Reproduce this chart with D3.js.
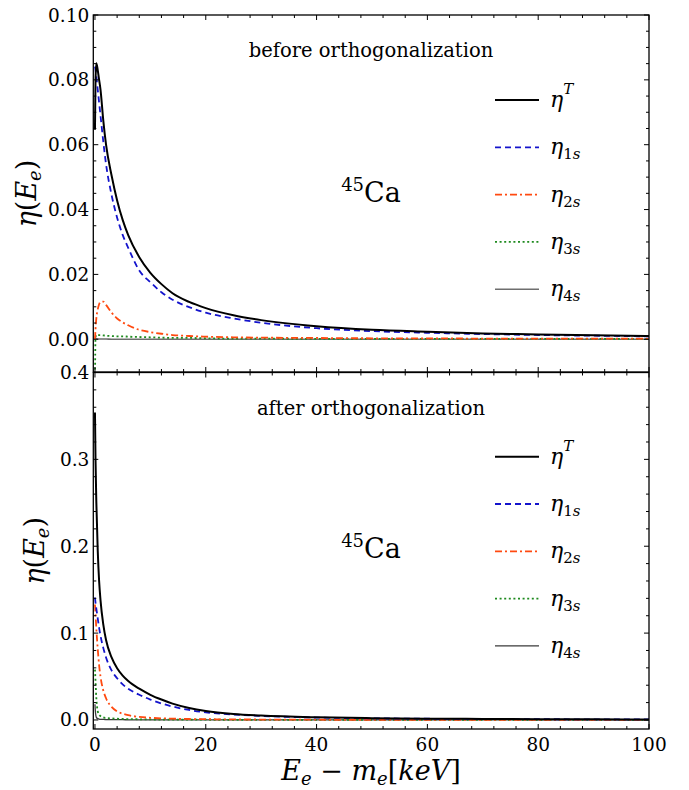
<!DOCTYPE html>
<html><head><meta charset="utf-8">
<script src="https://cdn.jsdelivr.net/npm/d3@7"></script>
<style>
body{margin:0;background:#fff}
svg{display:block}
</style>
</head><body>
<svg id="c" width="689" height="790"></svg>
<script>
// ---- data ----
const energies = [0,0.1,0.25,0.5,0.75,1,1.5,2,3,4,5,6,8,10,12,14,17,20,25,30,40,50,60,70,80,90,100];

// before orthogonalization
const beforeTotal = [0.0646,0.080,0.0851,0.083,0.080,0.077,0.0675,0.060,0.0505,0.0428,0.0368,0.0321,0.0253,0.0205,0.0170,0.0142,0.0115,0.0096,0.0074,0.0059,0.0040,0.0029,0.0023,0.0018,0.0015,0.0012,0.0010];
const before1s = [0.0841,0.083,0.081,0.077,0.073,0.069,0.061,0.054,0.0445,0.0375,0.0322,0.0282,0.0212,0.0176,0.0145,0.0122,0.0099,0.0082,0.0064,0.0051,0.0034,0.0025,0.0020,0.0016,0.0013,0.0011,0.0009];
const before2s = [0.000,0.003,0.0065,0.0092,0.0108,0.0115,0.0116,0.0106,0.0082,0.0064,0.0052,0.0043,0.0029,0.0022,0.0017,0.0013,0.0010,0.0008,0.0006,0.0005,0.0004,0.0003,0.0003,0.0002,0.0002,0.0002,0.0002];
const before3s = [-0.015,0.0005,0.0014,0.0014,0.0013,0.0013,0.0012,0.0011,0.0010,0.0009,0.0009,0.0008,0.0007,0.0006,0.0005,0.0004,0.0004,0.0003,0.0002,0.0002,0.0001,0.0001,0.0001,0.0001,0.0001,0.0001,0.0001];
const before4s = [0.0003,0.0002,0.0002,0.0001,0.0001,0.0001,0.0001,0.0001,0,0,0,0,0,0,0,0,0,0,0,0,0,0,0,0,0,0,0];

// after orthogonalization
const afterTotal = [0.354,0.300,0.250,0.195,0.160,0.138,0.110,0.092,0.072,0.0595,0.0510,0.0448,0.0360,0.0290,0.0235,0.0188,0.0138,0.0104,0.0070,0.0051,0.0031,0.0021,0.0015,0.0012,0.0009,0.0007,0.0006];
const after1s = [0.141,0.135,0.128,0.117,0.106,0.097,0.083,0.072,0.057,0.048,0.041,0.036,0.029,0.0235,0.019,0.0155,0.0115,0.0088,0.0062,0.0046,0.0028,0.0019,0.0014,0.0011,0.0009,0.0007,0.0006];
const after2s = [0.133,0.122,0.105,0.082,0.063,0.050,0.034,0.025,0.015,0.0098,0.0072,0.0055,0.0035,0.0025,0.0019,0.0015,0.0011,0.0009,0.0006,0.0005,0.0003,0.0002,0.0002,0.0001,0.0001,0.0001,0.0001];
const after3s = [0.058,0.045,0.025,0.010,0.006,0.0045,0.0030,0.0024,0.0018,0.0014,0.0012,0.0010,0.0008,0.0006,0.0005,0.0004,0.0004,0.0003,0.0002,0.0002,0.0001,0.0001,0.0001,0.0001,0.0001,0.0001,0.0001];
const after4s = [0.018,0.008,0.003,0.0015,0.0011,0.0008,0.0006,0.0005,0.0004,0.0003,0.0003,0.0002,0.0002,0.0001,0.0001,0.0001,0.0001,0,0,0,0,0,0,0,0,0,0];

const xTicks = [0,20,40,60,80,100];
const topYTicks = [0,0.02,0.04,0.06,0.08,0.10];
const bottomYTicks = [0,0.1,0.2,0.3,0.4];
const seriesNames = ["T","1s","2s","3s","4s"];

// ---- drawing ----
const FONT = "'DejaVu Serif', 'Liberation Serif', serif";
const svg = d3.select("#c").attr("font-family", FONT).style("font-family", FONT);
const x = d3.scaleLinear().domain([-0.3,100]).range([93.3,649]);

const styles = [
  {color:"#000000", width:2, dash:null},
  {color:"#1414cc", width:1.8, dash:"6,4"},
  {color:"#ff4a10", width:1.8, dash:"7,3,2,3"},
  {color:"#1f8a1f", width:1.8, dash:"2,2.6"},
  {color:"#6e6e6e", width:1.6, dash:null}
];

function txt(sel){ return sel.append("text").attr("font-family", FONT).attr("fill","#000"); }

function panel(opt){
  const y = d3.scaleLinear().domain(opt.domain).range([opt.bottom, opt.top]);
  const g = svg.append("g");
  const id = "clip"+opt.key;
  svg.append("clipPath").attr("id",id).append("rect")
    .attr("x",x.range()[0]).attr("y",opt.top)
    .attr("width",x.range()[1]-x.range()[0]).attr("height",opt.bottom-opt.top);

  const line = d3.line().x(d=>x(d[0])).y(d=>y(d[1])).curve(d3.curveMonotoneX);
  const cg = g.append("g").attr("clip-path",`url(#${id})`);
  [4,3,2,1,0].forEach(i=>{
    const st = opt.styles[i];
    cg.append("path")
      .attr("d", line(energies.map((e,k)=>[e, opt.series[i][k]])))
      .attr("fill","none").attr("stroke",st.color).attr("stroke-width",st.width)
      .attr("stroke-dasharray",st.dash).attr("stroke-linejoin","round");
  });

  const x0=x.range()[0], x1=x.range()[1];
  g.append("rect").attr("x",x0).attr("y",opt.top).attr("width",x1-x0).attr("height",opt.bottom-opt.top)
    .attr("fill","none").attr("stroke","#000").attr("stroke-width",1.3);

  const xMinor = d3.range(0,101,4).filter(v=>!xTicks.includes(v));
  const ticksX = [...xTicks.map(v=>[v,5]), ...xMinor.map(v=>[v,3])];
  ticksX.forEach(([v,len])=>{
    g.append("line").attr("x1",x(v)).attr("x2",x(v)).attr("y1",opt.bottom).attr("y2",opt.bottom-len).attr("stroke","#000").attr("stroke-width",1);
    g.append("line").attr("x1",x(v)).attr("x2",x(v)).attr("y1",opt.top).attr("y2",opt.top+len).attr("stroke","#000").attr("stroke-width",1);
  });
  const yMinor = d3.range(0, opt.domain[1]+1e-9, opt.minorStep).map(v=>+v.toFixed(4)).filter(v=>!opt.yTicks.some(t=>Math.abs(t-v)<1e-9));
  const ticksY = [...opt.yTicks.map(v=>[v,5]), ...yMinor.map(v=>[v,3])];
  ticksY.forEach(([v,len])=>{
    g.append("line").attr("y1",y(v)).attr("y2",y(v)).attr("x1",x0).attr("x2",x0+len).attr("stroke","#000").attr("stroke-width",1);
    g.append("line").attr("y1",y(v)).attr("y2",y(v)).attr("x1",x1).attr("x2",x1-len).attr("stroke","#000").attr("stroke-width",1);
  });
  opt.yTicks.forEach(v=>{
    txt(g).attr("x",x0-4).attr("y",y(v)+6.5).attr("text-anchor","end")
      .attr("font-size",18.5).text(d3.format(opt.fmt)(v));
  });
  if(opt.xLabels){
    xTicks.forEach(v=>{
      txt(g).attr("x",x(v)).attr("y",opt.bottom+22).attr("text-anchor","middle")
        .attr("font-size",18.5).text(v);
    });
  }
  const yl = txt(g).attr("transform",`translate(${opt.ylabX},${(opt.top+opt.bottom)/2}) rotate(-90)`)
    .attr("text-anchor","middle").attr("font-size",27);
  yl.append("tspan").attr("font-style","italic").text("η");
  yl.append("tspan").text("(");
  yl.append("tspan").attr("font-style","italic").text("E");
  yl.append("tspan").attr("font-style","italic").attr("font-size",18).attr("dy",5).text("e");
  yl.append("tspan").attr("dy",-5).text(")");

  txt(g).attr("x",371).attr("y",opt.top+42).attr("text-anchor","middle").attr("font-size",19.5).text(opt.title);
  const ca = txt(g).attr("x",371).attr("y",opt.caY).attr("text-anchor","middle").attr("font-size",27);
  ca.append("tspan").attr("font-size",18).attr("dy",-11).text("45");
  ca.append("tspan").attr("dy",11).text("Ca");

  seriesNames.forEach((nm,i)=>{
    const ly = opt.legY + i*47.3;
    const st = opt.styles[i];
    g.append("line").attr("x1",495).attr("x2",539).attr("y1",ly).attr("y2",ly)
      .attr("stroke",st.color).attr("stroke-width",st.width).attr("stroke-dasharray",st.dash);
    const t = txt(g).attr("x",550).attr("y",ly+7).attr("font-size",22);
    t.append("tspan").attr("font-style","italic").text("η");
    if(nm==="T"){
      t.append("tspan").attr("font-style","italic").attr("font-size",15).attr("dy",-13).text("T");
    } else {
      t.append("tspan").attr("font-size",15).attr("dy",5).text(nm[0]);
      t.append("tspan").attr("font-style","italic").attr("font-size",15).text(nm[1]);
    }
  });
}

panel({key:"top", top:15, bottom:372, domain:[-0.0101,0.10], yTicks:topYTicks, minorStep:0.005, fmt:".2f",
  series:[beforeTotal,before1s,before2s,before3s,before4s], styles:styles, xLabels:false,
  title:"before orthogonalization", caY:202, legY:100, ylabX:36});

const stylesB = styles.map((s,i)=> i===4 ? {color:"#3a3a3a", width:1.3, dash:null} : s);
panel({key:"bot", top:372.5, bottom:729, domain:[-0.0104,0.40], yTicks:bottomYTicks, minorStep:0.02, fmt:".1f",
  series:[afterTotal,after1s,after2s,after3s,after4s], styles:stylesB, xLabels:true,
  title:"after orthogonalization", caY:558, legY:456.7, ylabX:44});

const xl = txt(svg).attr("x",371).attr("y",780).attr("text-anchor","middle").attr("font-size",27);
xl.append("tspan").attr("font-style","italic").text("E");
xl.append("tspan").attr("font-style","italic").attr("font-size",18).attr("dy",5).text("e");
xl.append("tspan").attr("dy",-5).text(" − ");
xl.append("tspan").attr("font-style","italic").text("m");
xl.append("tspan").attr("font-style","italic").attr("font-size",18).attr("dy",5).text("e");
xl.append("tspan").attr("dy",-5).text("[");
xl.append("tspan").attr("font-style","italic").text("keV");
xl.append("tspan").text("]");
</script>
</body></html>
